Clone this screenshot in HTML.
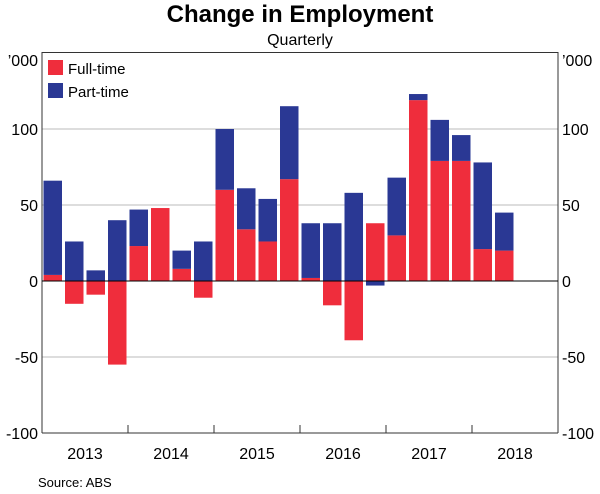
<!DOCTYPE html>
<html><head><meta charset="utf-8"><style>
body{margin:0;background:#fff;font-family:"Liberation Sans",Arial,sans-serif}
svg text{font-family:"Liberation Sans",Arial,sans-serif}
</style></head><body>
<svg id="chart" width="600" height="489">
<text x="300" y="22" text-anchor="middle" font-size="24" font-weight="bold">Change in Employment</text>
<text x="300" y="45" text-anchor="middle" font-size="16">Quarterly</text>
<g id="grid"></g>
<g id="bars"></g>
<path d="M42,433 V52.5 H558 V433" fill="none" stroke="#333" stroke-width="1"/>
<g id="axes"></g>
<g>
<rect x="48" y="60" width="15" height="15" fill="#ef2d3c"/>
<text x="68" y="74" font-size="15">Full-time</text>
<rect x="48" y="83" width="15" height="15" fill="#2a3894"/>
<text x="68" y="97" font-size="15">Part-time</text>
</g>
<text x="38" y="487" font-size="13">Source:   ABS</text>
</svg>
<script>
const fullTime=[4,-15,-9,-55,23,48,8,-11,60,34,26,67,2,-16,-39,38,30,119,79,79,21,20];
const partTime=[62,26,7,40,24,0,12,26,40,27,28,48,36,38,58,-3,38,4,27,17,57,25];
const years=["2013","2014","2015","2016","2017","2018"];
const yTicks=[-100,-50,0,50,100];
const NS="http://www.w3.org/2000/svg";
const L=42,R=558,slots=24,slotW=(R-L)/slots;
function y(v){return 281-v*1.52;}
function x(i){return L+i*slotW;}
function mk(t,a,p){const e=document.createElementNS(NS,t);for(const k in a)e.setAttribute(k,a[k]);p.appendChild(e);return e;}
const grid=document.getElementById('grid'),bars=document.getElementById('bars'),axes=document.getElementById('axes');
yTicks.forEach(v=>{
  if(v!==0&&v!==-100){const g=mk('line',{x1:L,x2:R,y1:y(v),y2:y(v),stroke:'#bbb','stroke-width':1},grid);
  
  }
  const t1=mk('text',{x:38,y:y(v)+6,'text-anchor':'end','font-size':16},axes);t1.textContent=v;
  
  
  const t2=mk('text',{x:562,y:y(v)+6,'font-size':16},axes);t2.textContent=v;
  
  
});
["left","right"].forEach((s,i)=>{const t=mk('text',{x:i?562:38,y:66,'text-anchor':i?'start':'end','font-size':16},axes);t.textContent="\u2019000";

});
const bw=slotW-3;
function bar(i,base,v,col,name){
  const a=y(base),b=y(base+v);
  const r=mk('rect',{x:x(i)+1.5,y:Math.min(a,b),width:bw,height:Math.abs(a-b),fill:col},bars);
  
  
}
fullTime.forEach((f,i)=>{
  const p=partTime[i];
  bar(i,0,f,'#ef2d3c','bar-full-time');
  const base=(Math.sign(p)===Math.sign(f))?f:0;
  if(p!==0)bar(i,base,p,'#2a3894','bar-part-time');
});
const z=mk('line',{x1:L,x2:R,y1:y(0),y2:y(0),stroke:'#000','stroke-width':1},axes);


const xa=mk('line',{x1:L,x2:R,y1:y(-100),y2:y(-100),stroke:'#333','stroke-width':1},axes);


years.forEach((yr,k)=>{
  const t=mk('text',{x:x(k*4+2),y:459,'text-anchor':'middle','font-size':16},axes);t.textContent=yr;
  
  
  if(k>0){const tk=mk('line',{x1:x(k*4),x2:x(k*4),y1:y(-100),y2:y(-100)-8,stroke:'#333'},axes);
  
  }
});
</script>
</body></html>
